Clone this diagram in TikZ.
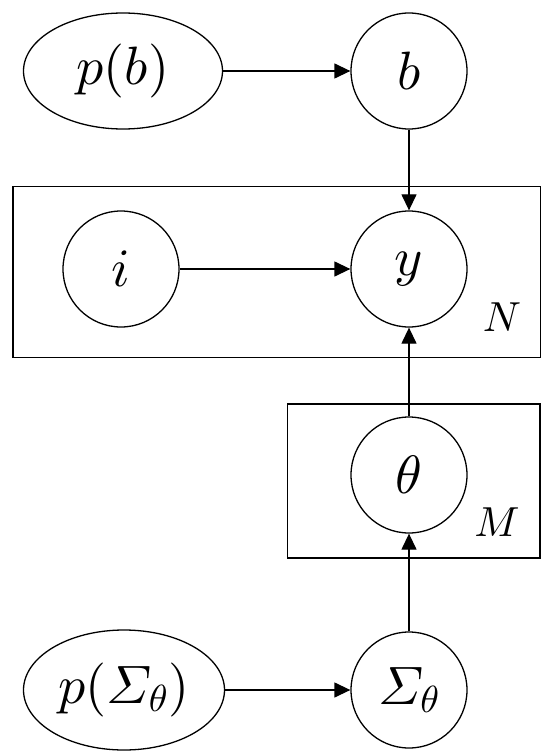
\documentclass[tikz,border=0pt]{standalone}
\usepackage{amsmath}
\DeclareFontShape{OML}{cmm}{m}{it}{<->cmmi10}{}
\DeclareFontShape{OT1}{cmr}{m}{n}{<->cmr10}{}
\DeclareFontShape{OMS}{cmsy}{m}{n}{<->cmsy10}{}
\DeclareFontShape{OMX}{cmex}{m}{n}{<->cmex10}{}
\usetikzlibrary{shapes.geometric,arrows.meta}
\newcommand\varfont{\fontsize{54}{60}\selectfont}
\newcommand\platefont{\fontsize{42}{46}\selectfont}
\begin{document}
\begin{tikzpicture}[x=1pt,y=-1pt,
  var/.style={circle,draw,line width=1.3pt,minimum size=116pt,inner sep=0pt,font=\varfont},
  prior/.style={ellipse,draw,line width=1.3pt,minimum width=199pt,minimum height=116pt,inner sep=0pt,font=\varfont},
  plate/.style={draw,line width=1.3pt,inner sep=0pt,anchor=north west},
  platelabel/.style={font=\platefont,inner sep=0pt},
  arr/.style={line width=1.3pt,-{Triangle[length=16pt,width=15pt]}}]
\useasboundingbox (0,0) rectangle (550,751);
% plates
\node[plate,minimum width=527.2pt,minimum height=171pt] (plateN) at (12.3,185.7) {};
\node[plate,minimum width=252.6pt,minimum height=154pt] (plateM) at (286.7,403.3) {};
\node[platelabel] (labN) at (502,317) {$N$};
\node[platelabel] (labM) at (497,522) {$M$};
% nodes
\node[prior] (pb) at (123,71) {$p(b)$};
\node[var] (b) at (409,71) {$b$};
\node[var] (i) at (121,269) {$i$};
\node[var] (y) at (409,269) {$y$};
\node[var] (theta) at (409,475) {$\theta$};
\node[prior,minimum width=201pt,minimum height=120pt] (pS) at (124,690) {$p(\varSigma_{\theta})$};
\node[var] (S) at (409,690) {$\varSigma_{\theta}$};
% edges
\draw[arr] (pb) -- (b);
\draw[arr] (b) -- (y);
\draw[arr] (i) -- (y);
\draw[arr] (theta) -- (y);
\draw[arr] (S) -- (theta);
\draw[arr] (pS) -- (S);
\end{tikzpicture}
\end{document}
